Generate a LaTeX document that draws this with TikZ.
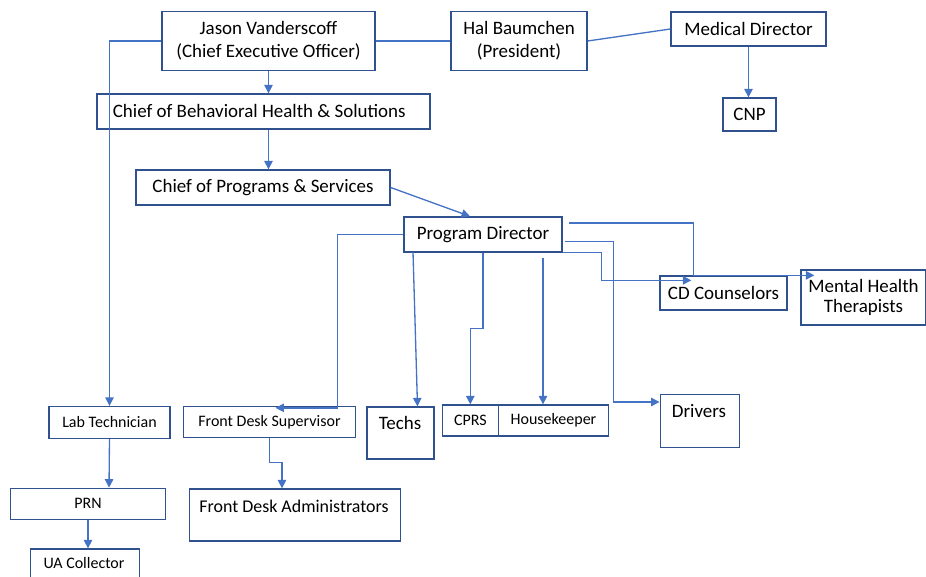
\documentclass[tikz,border=0pt]{standalone}
\usepackage{fontspec}
\setmainfont{Carlito}
\usetikzlibrary{arrows.meta,calc}
\definecolor{boxline}{HTML}{2F528F}
\definecolor{linkblue}{HTML}{4472C4}

\begin{document}
\begin{tikzpicture}[x=0.02cm, y=-0.02cm,
    box/.style={draw=boxline, line width=0.75pt, inner sep=0pt, align=center, font=\fontsize{10.8}{13}\selectfont},
    smallbox/.style={box, font=\fontsize{9.1}{11}\selectfont},
    boxsize/.style 2 args={minimum width=#1*0.02cm, minimum height=#2*0.02cm},
    txt/.style={inner sep=0pt, align=center, font=\fontsize{10.8}{13}\selectfont},
    link/.style={draw=linkblue, line width=0.75pt},
    arr/.style={link, -{Triangle[width=4.8pt, length=4.8pt]}}]

    % FULL
    \useasboundingbox (0,0) rectangle (926,577);
    \clip (0,0) rectangle (926,577);

    % DIRECCIO
    \node[box, boxsize={213}{59}] (ceo) at (268.5,41) {Jason Vanderscoff\\(Chief Executive Officer)};
    \node[box, boxsize={136}{59}] (hal) at (519,41) {Hal Baumchen\\(President)};
    \node[box, boxsize={155}{34}] (med) at (748.5,29) {Medical Director};
    \node[box, boxsize={53}{33}] (cnp) at (749.5,114.5) {CNP};
    \node[box, boxsize={333}{35}] (cbh) at (263.5,111.5) {};
    \node[txt, anchor=west] (cbh-t) at (112.5,111) {Chief of Behavioral Health \& Solutions};
    \node[box, boxsize={254}{35}] (cps) at (263,187.5) {Chief of Programs \& Services};
    \node[box, boxsize={158}{35}] (pd) at (483,234.5) {Program Director};

    % EQUIP DE LA DRETA
    \node[box, boxsize={127}{34}] (cdc) at (723.5,293) {CD Counselors};
    \node[box, boxsize={125}{55}] (mht) at (863.5,297.5) {Mental Health\\[-2pt]Therapists};

    % FILA DE BAIX
    \node[smallbox, boxsize={121}{32}] (lab) at (109.5,422.5) {Lab Technician};
    \node[smallbox, boxsize={172}{31}] (fds) at (269.5,422) {Front Desk Supervisor};
    \node[box, boxsize={67}{52}] (techs) at (400.5,433) {};
    \node[txt] (techs-t) at (400,423) {Techs};
    \node[smallbox, boxsize={56}{31}] (cprs) at (470.3,420.5) {CPRS};
    \node[smallbox, boxsize={110}{31}] (hk) at (553.5,420.5) {Housekeeper};
    \node[box, boxsize={79}{53}] (drv) at (699.7,421) {};
    \node[txt] (drv-t) at (699,411) {Drivers};
    \node[smallbox, boxsize={155}{31}] (prn) at (88,503.8) {PRN};
    \node[box, boxsize={211}{52}] (fda) at (295,515) {};
    \node[txt, font=\fontsize{10.2}{12}\selectfont] (fda-t) at (294,506) {Front Desk Administrators};
    \node[smallbox, boxsize={109}{40}] (uac) at (84.8,569) {};
    \node[txt, font=\fontsize{9.1}{11}\selectfont] (uac-t) at (84,563) {UA Collector};

    % CONNEXIONS DE DALT
    \draw[arr] (ceo.west) -| (lab.north);
    \draw[link] (ceo.east) -- (hal.west);
    \draw[link] (hal.east) -- (med.west);
    \draw[arr] (med.south) -- (med.south |- cnp.north);
    \draw[arr] (ceo.south) -- (ceo.south |- cbh.north);
    \draw[arr] (cbh.south -| ceo.south) -- (cps.north -| ceo.south);
    \draw[arr] (cps.east) -- ($(pd.north)+(-13,0)$);

    % CONNEXIONS DEL PROGRAM DIRECTOR
    \coordinate (techsfrom) at (413,252);
    \coordinate (hkfrom) at (543,258);
    \coordinate (mhfrom) at (569,223);
    \draw[arr] (pd.west) -- ++(-66,0) |- ($(fds.north)+(6,2)$);
    \draw[arr] (techsfrom) -- ($(techs.north)+(17,0)$);
    \draw[arr] (pd.south) -- ++(0,76) -| (cprs.north);
    \draw[arr] (hkfrom) -- (hkfrom |- hk.north);
    \draw[arr] (mhfrom) -| ($(cdc.north)+(-30,0)$) -- ($(mht.north west)+(14,6)$);
    \draw[arr] ($(pd.east)+(2,7)$) -- ++(49,0) |- ($(drv.west)+(0,-19)$);
    \draw[arr] (pd.south east) -- ++(39,0) |- ($(cdc.north west)+(32,5)$);

    % CONNEXIONS DE BAIX
    \draw[arr] (lab.south) -- ($(prn.north)+(21,0)$);
    \draw[arr] (prn.south) -- (prn.south |- uac.north);
    \draw[arr] (fds.south) -- ++(0,24) -| ($(fda.north)+(-13,0)$);

\end{tikzpicture}
\end{document}
